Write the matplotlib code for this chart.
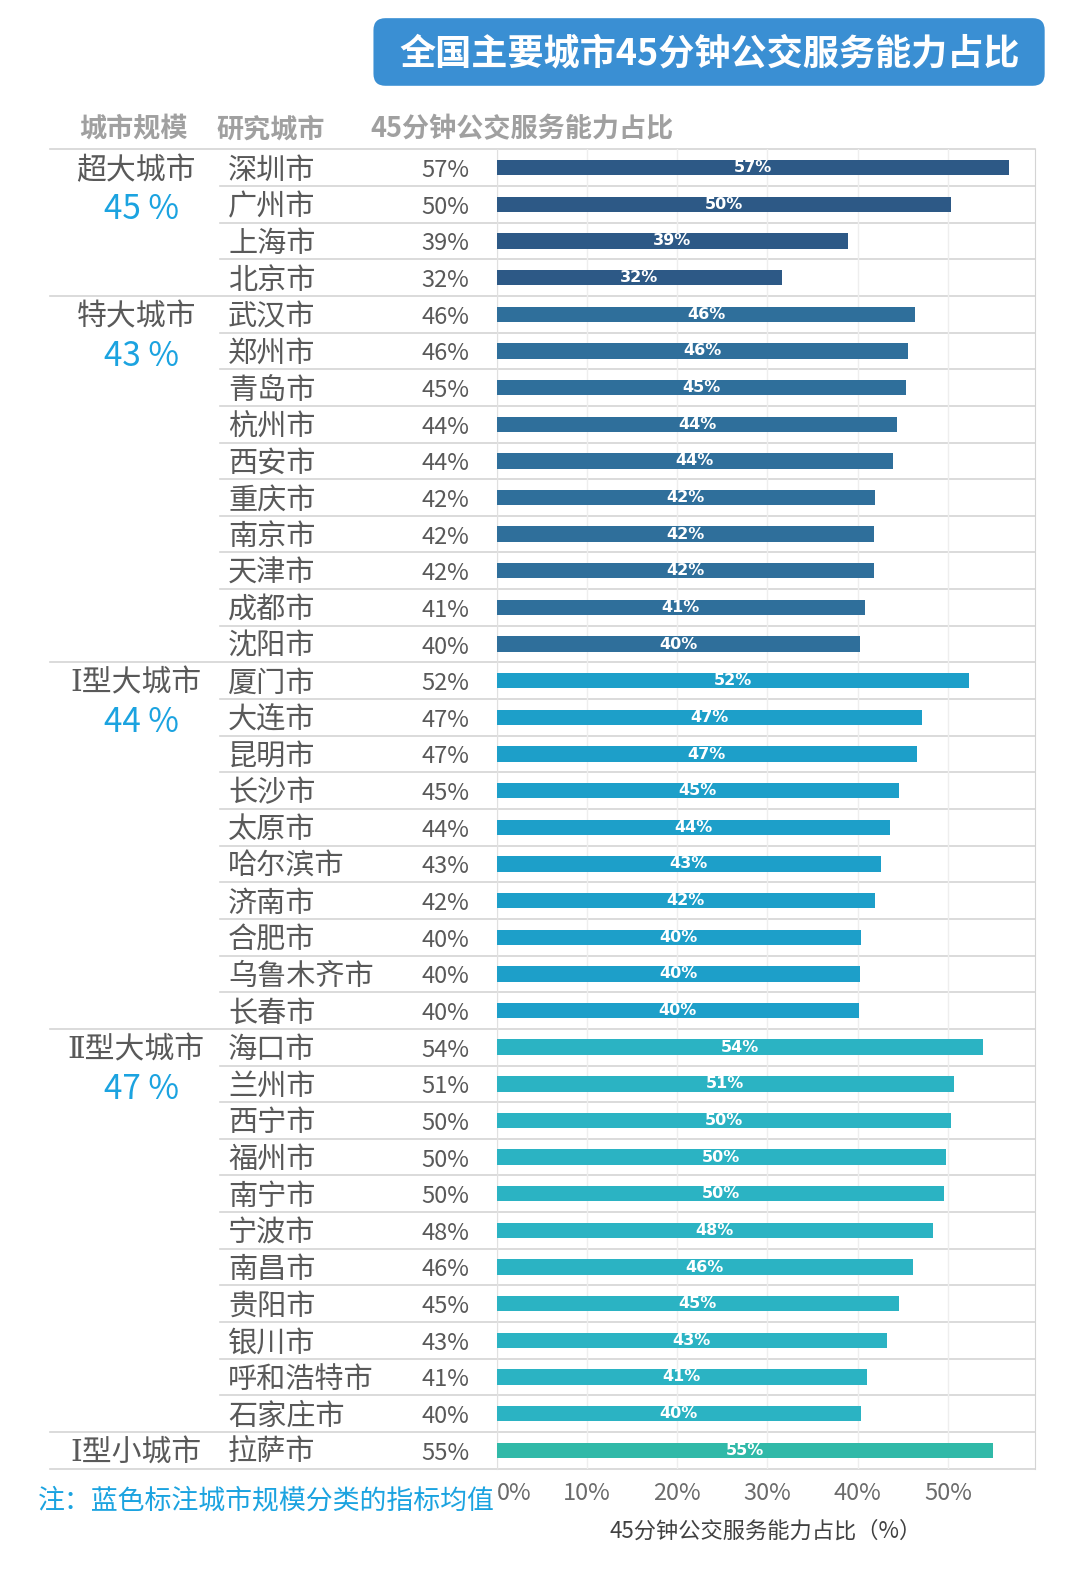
import matplotlib
matplotlib.use('Agg')
import matplotlib.pyplot as plt
from matplotlib.patches import FancyBboxPatch
from matplotlib.transforms import blended_transform_factory

plt.rcParams['font.family'] = ['Noto Sans CJK SC', 'DejaVu Sans']

# ---------------- data ----------------
title = '全国主要城市45分钟公交服务能力占比'
headers = ['城市规模', '研究城市', '45分钟公交服务能力占比']
groups = ['超大城市', '特大城市', 'Ⅰ型大城市', 'Ⅱ型大城市', 'Ⅰ型小城市']
group_avgs = ['45 %', '43 %', '44 %', '47 %', None]

cities_super = ['深圳市', '广州市', '上海市', '北京市']
values_super = [56.8, 50.3, 38.9, 31.6]

cities_mega = ['武汉市', '郑州市', '青岛市', '杭州市', '西安市', '重庆市', '南京市', '天津市', '成都市', '沈阳市']
values_mega = [46.4, 45.6, 45.4, 44.4, 43.9, 41.9, 41.8, 41.8, 40.8, 40.3]

cities_big1 = ['厦门市', '大连市', '昆明市', '长沙市', '太原市', '哈尔滨市', '济南市', '合肥市', '乌鲁木齐市', '长春市']
values_big1 = [52.3, 47.1, 46.6, 44.6, 43.6, 42.6, 41.9, 40.4, 40.3, 40.1]

cities_big2 = ['海口市', '兰州市', '西宁市', '福州市', '南宁市', '宁波市', '南昌市', '贵阳市', '银川市', '呼和浩特市', '石家庄市']
values_big2 = [53.9, 50.7, 50.3, 49.8, 49.6, 48.3, 46.1, 44.6, 43.2, 41.0, 40.4]

cities_small1 = ['拉萨市']
values_small1 = [55.0]

x_ticks = [0, 10, 20, 30, 40, 50]
x_label = '45分钟公交服务能力占比（%）'
note = '注：蓝色标注城市规模分类的指标均值'

group_cities = [cities_super, cities_mega, cities_big1, cities_big2, cities_small1]
group_values = [values_super, values_mega, values_big1, values_big2, values_small1]
group_colors = ['#2d5986', '#2f6f9b', '#1d9fc9', '#2bb3c3', '#30b9a8']

# ---------------- layout helpers ----------------
W, H = 1080, 1582
S = 1080 / 1070.0
fig = plt.figure(figsize=(W / 100, H / 100), dpi=100)
fig.patch.set_facecolor('white')

def fx(x):
    return x * S / W

def fy(y):
    return 1 - y * S / H

AX_L, AX_R, AX_T, AX_B = 492, 1025, 148, 1455
ax = fig.add_axes([fx(AX_L), fy(AX_B), fx(AX_R) - fx(AX_L), fy(AX_T) - fy(AX_B)])

def axx(px):
    return (px - AX_L) / (AX_R - AX_L)

trans = blended_transform_factory(ax.transAxes, ax.transData)

n_rows = sum(len(c) for c in group_cities)
ax.set_ylim(n_rows - 0.5, -0.5)
ax.set_xlim(0, 59.6)

grey_txt = '#595959'
blue_txt = '#1ba3e0'
line_col = '#d4d4d4'
dy = 0.08  # small downward text offset (row units)

row = 0
for gi, (cities, vals, col) in enumerate(zip(group_cities, group_values, group_colors)):
    ys = list(range(row, row + len(cities)))
    ax.barh(ys, vals, height=0.42, color=col, zorder=3)
    for y, c, v in zip(ys, cities, vals):
        lab = f'{round(v):d}%'
        ax.text(v / 2, y, lab, color='white', fontsize=11.5, fontweight='bold',
                ha='center', va='center', zorder=4, family=['DejaVu Sans'])
        ax.text(axx(226), y + dy, c, transform=trans, ha='left', va='center',
                fontsize=21, color=grey_txt, clip_on=False)
        ax.text(axx(465), y + dy, lab, transform=trans, ha='right', va='center',
                fontsize=17, color=grey_txt, clip_on=False)
        if y < n_rows - 1:
            x_start = axx(50) if y == ys[-1] else axx(218)
            ax.plot([x_start, 1], [y + 0.5, y + 0.5], transform=trans,
                    color=line_col, lw=1.2, clip_on=False, zorder=1)
    ax.text(axx(135), ys[0] + dy, groups[gi], transform=trans, ha='center', va='center',
            fontsize=21.5, color=grey_txt, clip_on=False,
            family=['DejaVu Serif', 'Noto Sans CJK SC'])
    if group_avgs[gi] is not None:
        ax.text(axx(140), ys[0] + 1.15, group_avgs[gi], transform=trans, ha='center',
                va='center', fontsize=24, color=blue_txt, clip_on=False)
    row += len(cities)

# top & bottom borders
for yb in (-0.5, n_rows - 0.5):
    ax.plot([axx(50), 1], [yb, yb], transform=trans, color=line_col, lw=1.2,
            clip_on=False, zorder=1)

# grid & spines
ax.set_xticks(x_ticks)
ax.set_xticklabels([f'{t}%' for t in x_ticks], fontsize=17, color='#6b6b6b')
ax.get_xticklabels()[0].set_horizontalalignment('left')
ax.tick_params(axis='x', length=0, pad=10)
ax.set_yticks([])
ax.grid(axis='x', color='#eeeeee', lw=1, zorder=0)
for s in ['top', 'bottom']:
    ax.spines[s].set_visible(False)
ax.spines['left'].set_color('#e0e0e0')
ax.spines['right'].set_color('#d4d4d4')
ax.set_xlabel(x_label, fontsize=16, color='#404040', labelpad=10)

# headers
hy = fy(128)
fig.text(fx(132), hy, headers[0], ha='center', va='center', fontsize=19.5,
         fontweight='bold', color='#a0a0a0')
fig.text(fx(268), hy, headers[1], ha='center', va='center', fontsize=19.5,
         fontweight='bold', color='#a0a0a0')
fig.text(fx(367), hy, headers[2], ha='left', va='center', fontsize=19.5,
         fontweight='bold', color='#a0a0a0')

# title box (in inches for round corners)
x0, x1 = 370 * S / 100, 1035 * S / 100
y0, y1 = (H - 85 * S) / 100, (H - 18 * S) / 100
box = FancyBboxPatch((x0, y0), x1 - x0, y1 - y0,
                     boxstyle='round,pad=0,rounding_size=0.12',
                     transform=fig.dpi_scale_trans, facecolor='#3a8fd3',
                     edgecolor='none')
fig.patches.append(box)
fig.text(fx(703), fy(53), title, ha='center', va='center', fontsize=26,
         fontweight='bold', color='white')

# note
fig.text(fx(38), fy(1487), note, ha='left', va='center', fontsize=19.4, color=blue_txt)

fig.savefig('out.png', dpi=100, facecolor='white')
